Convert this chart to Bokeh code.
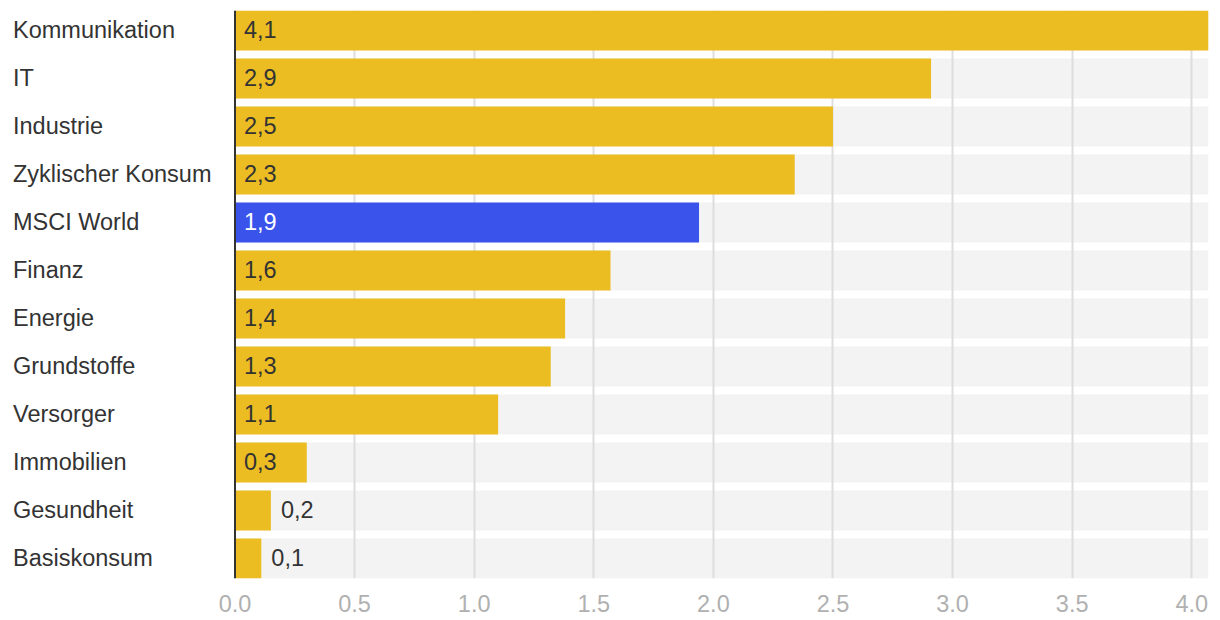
from bokeh.plotting import figure
from bokeh.models import Range1d, FixedTicker, Span, ColumnDataSource
from bokeh.core.properties import value
from bokeh.embed import file_html
from bokeh.resources import INLINE

categories = ["Kommunikation", "IT", "Industrie", "Zyklischer Konsum", "MSCI World",
              "Finanz", "Energie", "Grundstoffe", "Versorger", "Immobilien",
              "Gesundheit", "Basiskonsum"]
values = [4.1, 2.91, 2.5, 2.34, 1.94, 1.57, 1.38, 1.32, 1.10, 0.30, 0.15, 0.11]
value_labels = ["4,1", "2,9", "2,5", "2,3", "1,9", "1,6", "1,4", "1,3", "1,1", "0,3", "0,2", "0,1"]
highlight = "MSCI World"
x_ticks = [0.0, 0.5, 1.0, 1.5, 2.0, 2.5, 3.0, 3.5, 4.0]
x_tick_labels = ["0.0", "0.5", "1.0", "1.5", "2.0", "2.5", "3.0", "3.5", "4.0"]

GOLD = "#EBBD22"
BLUE = "#3A53EB"
BAND = "#F3F3F3"
FONT = "Liberation Sans"
FS = "23.5px"

X_END = 4.07
X_START = -0.947
BAR_H = 40 / 48

n = len(categories)
rows = list(range(n))
colors = [BLUE if c == highlight else GOLD for c in categories]
inside = [v >= 0.25 for v in values]
lab_x = [0 if ins else v for v, ins in zip(values, inside)]
lab_off = [9 if ins else 10 for ins in inside]
lab_col = ["#ffffff" if c == highlight else "#333333" for c in categories]

src = ColumnDataSource(dict(y=rows, v=values, color=colors, cat=categories,
                            lab=value_labels, lx=lab_x, lo=lab_off, lc=lab_col,
                            zero=[0] * n, end=[X_END] * n))

p = figure(width=1212, height=618, output_backend="svg", toolbar_location=None,
           x_range=Range1d(X_START, X_END),
           y_range=Range1d(n - 1 + BAR_H / 2, -BAR_H / 2),
           y_axis_location=None,
           min_border_left=8, min_border_right=4, min_border_top=10, min_border_bottom=40)
p.outline_line_color = None
p.background_fill_color = "#ffffff"

# background bands
p.hbar(y="y", left="zero", right="end", height=BAR_H, source=src,
       fill_color=BAND, line_color=None, level="image")

# bars
p.hbar(y="y", left="zero", right="v", height=BAR_H, source=src,
       fill_color="color", line_color=None)

# axis line at zero
p.add_layout(Span(location=0, dimension="height", line_color="#333333", line_width=2))

# category labels
p.text(x="zero", y="y", text="cat", source=src, x_offset=-222, y_offset=-1,
       text_align="left", text_baseline="middle", text_color="#333333",
       text_font=value(FONT), text_font_size=FS)

# value labels
p.text(x="lx", y="y", text="lab", source=src, x_offset="lo", y_offset=-1,
       text_align="left", text_baseline="middle", text_color="lc",
       text_font=value(FONT), text_font_size=FS)

p.xaxis.ticker = FixedTicker(ticks=x_ticks)
p.xaxis.major_label_overrides = {t: l for t, l in zip(x_ticks, x_tick_labels)}
p.xaxis.axis_line_color = None
p.xaxis.major_tick_line_color = None
p.xaxis.minor_tick_line_color = None
p.xaxis.major_label_standoff = 10
p.xaxis.major_label_text_color = "#B0B0B0"
p.xaxis.major_label_text_font = FONT
p.xaxis.major_label_text_font_size = FS

p.xgrid.ticker = FixedTicker(ticks=x_ticks[1:])
p.xgrid.grid_line_color = "#DDDDDD"
p.xgrid.grid_line_width = 2
p.ygrid.grid_line_color = None

open("out.html", "w").write(file_html(p, INLINE))
